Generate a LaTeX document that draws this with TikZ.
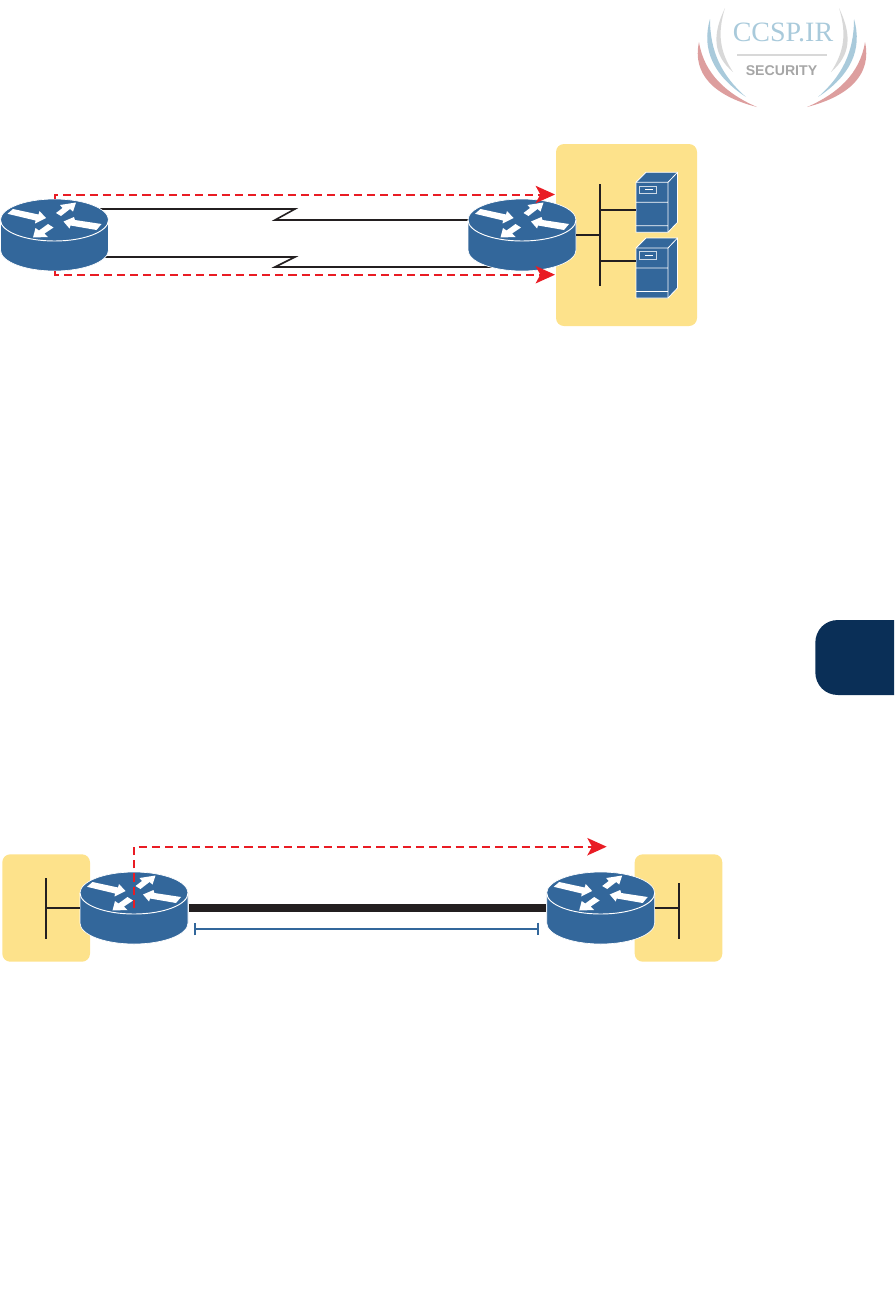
\documentclass[tikz,border=0pt]{standalone}
\usepackage{fontspec}
\setmainfont{Liberation Sans}
\newfontfamily\logoserif{Liberation Serif}
\usetikzlibrary{arrows.meta,calc}
\definecolor{routerblue}{HTML}{33679B}
\definecolor{siteyellow}{HTML}{FDE28B}
\definecolor{flowred}{HTML}{E91C24}
\definecolor{inkblack}{HTML}{231F20}
\definecolor{tabnavy}{HTML}{0A2F57}
\definecolor{logoblue}{HTML}{A9CADB}
\definecolor{logored}{HTML}{DD9E9E}
\definecolor{logogrey}{HTML}{D8D8D8}
\definecolor{logotext}{HTML}{A6A6A6}
\tikzset{
  sitearea/.style={fill=siteyellow,rounded corners=6pt},
  busline/.style={draw=inkblack,line width=1.6pt},
  wanline/.style={draw=inkblack,line width=1.2pt,line join=miter},
  flowline/.style={draw=flowred,line width=1.5pt,dash pattern=on 6.2pt off 3.7pt,
    -{Stealth[length=14.5pt,width=13pt,inset=3.5pt]}},
  spanline/.style={draw=routerblue,line width=1.2pt,{Bar[width=9.5pt,line width=1.2pt]}-{Bar[width=9.5pt,line width=1.2pt]}},
  iconbody/.style={fill=routerblue,draw=white,line width=0.5pt},
  iconarrow/.style={fill=white},
}
\newcommand{\routerIcon}[3]{%
  % name, centre x, centre y of whole icon
  \node[inner sep=0pt,outer sep=0pt,minimum width=81pt,minimum height=54pt] (#1) at (#2,#3) {};
  \begin{scope}[shift={(#2,#3-15)}]
    \path[iconbody] (-54,0) arc[start angle=180,end angle=360,x radius=54,y radius=21]
      -- (54,30) arc[start angle=0,end angle=180,x radius=54,y radius=21] -- cycle;
    \draw[white,line width=0.7pt] (-54,0) arc[start angle=180,end angle=0,x radius=54,y radius=21];
    \fill[iconarrow] (-47,-6.2) -- (-41.5,-11) -- (-16,-5.5) -- (-15,-9) -- (-8.5,-2) -- (-19.5,3.5) -- (-19,0.5) -- cycle;
    \fill[iconarrow] (1.5,-7) -- (8,-12) -- (5.5,-15) -- (21.5,-17.5) -- (18.5,-8.5) -- (15.5,-11) -- (6.5,-4) -- cycle;
    \fill[iconarrow] (47,4) -- (42,10) -- (16,5.5) -- (15,8.5) -- (9,1.5) -- (19.5,-3) -- (20.5,0) -- cycle;
    \fill[iconarrow] (-6.5,4) -- (-1,7.5) -- (-10,13.5) -- (-6.5,17) -- (-21.5,17.5) -- (-19,8) -- (-15.5,10.5) -- cycle;
  \end{scope}}
\newcommand{\serverIcon}[3]{%
  % name, left x of front face, top y of front face
  \node[inner sep=0pt,outer sep=0pt,minimum width=24pt,minimum height=37.5pt] (#1) at (#2+16,#3+25) {};
  \begin{scope}[shift={(#2,#3)}]
    \path[iconbody,line width=0.6pt] (0,0) -- (10,-10) -- (41.5,-10) -- (41.5,40) -- (32,50) -- (0,50) -- cycle;
    \draw[white,line width=0.6pt] (0,0) -- (32,0) -- (41.5,-10) (32,0) -- (32,50) (0,20) -- (32,20) (0,43.4) -- (32,43.4);
    \draw[white!75!routerblue,line width=0.7pt] (3.5,3.7) rectangle (20.5,11);
    \draw[white,line width=0.7pt] (9,7.4) -- (17,7.4);
  \end{scope}}
\begin{document}
\begin{tikzpicture}[x=0.75pt,y=-0.75pt]
\useasboundingbox (0,0) rectangle (894,1314);
% logo
\begin{scope}
  \fill[logogrey] (725,8) .. controls (712,35) and (713,55) .. (733,72) .. controls (720,52) and (717,34) .. (725,8) -- cycle;
  \fill[logogrey] (839,8) .. controls (852,35) and (851,55) .. (831,72) .. controls (844,52) and (847,34) .. (839,8) -- cycle;
  \fill[logoblue] (710,19) .. controls (701,50) and (714,76) .. (746,97) .. controls (722,76) and (710,52) .. (710,19) -- cycle;
  \fill[logoblue] (854,19) .. controls (863,50) and (850,76) .. (818,97) .. controls (842,76) and (854,52) .. (854,19) -- cycle;
  \fill[logored] (699,42) .. controls (692,74) and (714,96) .. (757,107) .. controls (727,94) and (704,74) .. (699,42) -- cycle;
  \fill[logored] (865,42) .. controls (872,74) and (850,96) .. (807,107) .. controls (837,94) and (860,74) .. (865,42) -- cycle;
  \node[inner sep=0pt,text=logoblue,font=\logoserif\fontsize{21pt}{22pt}\selectfont] (logotitle) at (783,32) {CCSP.IR};
  \draw[logogrey,line width=1.3pt] (737,55) -- (827,55);
  \node[inner sep=0pt,text=logotext,font=\bfseries\fontsize{10.6pt}{12pt}\selectfont] (logosub) at (781.5,71) {SECURITY};
\end{scope}
% chapter tab
\path[fill=tabnavy] (894,620) -- (838,620) .. controls (825,620) and (815.3,630) .. (815.3,643) -- (815.3,672) .. controls (815.3,685) and (825,695) .. (838,695) -- (894,695) -- cycle;
% top diagram
\path[sitearea] (556,144) rectangle (697,326);
\coordinate (za) at (295,209);
\coordinate (zb) at (275,220);
\coordinate (zc) at (295,257);
\coordinate (zd) at (275,267);
\coordinate (bustop) at (600,184);
\coordinate (busbottom) at (600,286);
\coordinate (busa) at (600,210);
\coordinate (busb) at (600,261);
\coordinate (tipa) at (555,194.5);
\coordinate (tipb) at (555,274.7);
\node[inner sep=0pt,outer sep=0pt,minimum width=81pt,minimum height=54pt] (r1) at (54.5,235) {};
\node[inner sep=0pt,outer sep=0pt,minimum width=81pt,minimum height=54pt] (r2) at (522,235) {};
\draw[wanline] (za -| r1) -- (za) -- (zb) -- (zb -| r2);
\draw[wanline] (zc -| r1) -- (zc) -- (zd) -- (zd -| r2);
\routerIcon{r1}{54.5}{235}
\routerIcon{r2}{522}{235}
\serverIcon{s1}{636}{182.3}
\serverIcon{s2}{636}{248}
\draw[busline] (bustop) -- (busbottom);
\draw[busline] (r2.east) -- (r2.east -| bustop);
\draw[busline] (busa) -- (busa -| s1.west);
\draw[busline] (busb) -- (busb -| s2.west);
\draw[flowline] (r1.north) |- (tipa);
\draw[flowline] (r1.south) |- (tipb);
% bottom diagram
\path[sitearea] (2.3,854.3) rectangle (90,961.7);
\path[sitearea] (634.7,854.3) rectangle (722.3,961.7);
\coordinate (busc) at (45.7,878.3);
\coordinate (busd) at (45.7,938.7);
\coordinate (buse) at (679,883.3);
\coordinate (busf) at (679,938.7);
\coordinate (tipc) at (606.7,846.7);
\coordinate (spana) at (194.3,929);
\coordinate (spanb) at (539,929);
\routerIcon{r3}{134}{908}
\routerIcon{r4}{600.7}{908}
\draw[busline] (busc) -- (busd);
\draw[busline] (buse) -- (busf);
\draw[busline] (r3.west) -- (r3.west -| busc);
\draw[busline] (r4.east) -- (r4.east -| buse);
\draw[draw=inkblack,line width=6pt] ($(r3.east)+(1,0)$) -- ($(r4.west)+(-1,0)$);
\draw[spanline] (spana) -- (spanb);
\draw[flowline] (r3.center) |- (tipc);
\end{tikzpicture}
\end{document}
